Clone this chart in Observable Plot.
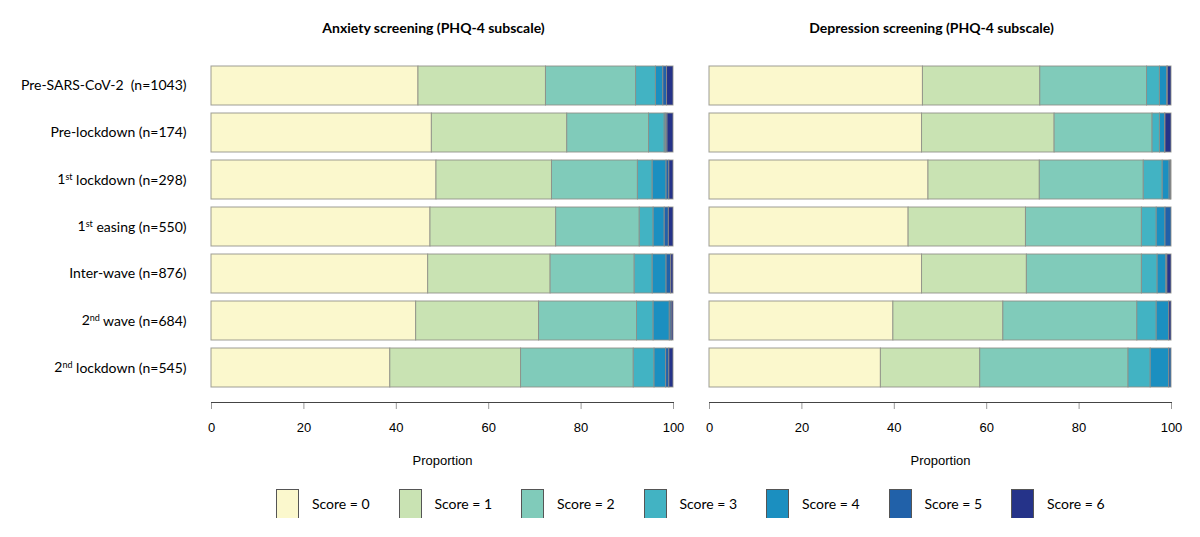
<!DOCTYPE html>
<html><head><meta charset="utf-8">
<script src="https://cdn.jsdelivr.net/npm/d3@7"></script>
<script src="https://cdn.jsdelivr.net/npm/@observablehq/plot@0.6"></script>
<style>
body{margin:0;background:#fff;}
#chart svg{display:block;}
#legend{display:flex;align-items:center;padding-left:276px;margin-top:9px;height:29px;font-family:Lato,"Open Sans",sans-serif;font-size:14px;color:#000;}
.item{display:flex;align-items:center;width:122.5px;flex:none;}
.sw{width:21px;height:28px;border:1px solid #555;box-sizing:content-box;margin-right:13px;}
</style></head><body>
<div id="chart"></div><div id="legend"></div>
<script>
const periods = ["Pre-SARS-CoV-2\u00a0 (n=1043)", "Pre-lockdown (n=174)", "1st lockdown (n=298)", "1st easing (n=550)", "Inter-wave (n=876)", "2nd wave (n=684)", "2nd lockdown (n=545)"];
const scores = ["Score = 0", "Score = 1", "Score = 2", "Score = 3", "Score = 4", "Score = 5", "Score = 6"];
const colors = ["#fbf8cd", "#c9e3b3", "#80cbba", "#42b3c3", "#1b8fc0", "#2161a9", "#253389"];
const panels = ["Anxiety screening (PHQ-4 subscale)", "Depression screening (PHQ-4 subscale)"];
const ticks = [0, 20, 40, 60, 80, 100];
const xLabel = "Proportion";
// percentages per score (0..6), one row per period
const anxiety = [
  [44.8, 27.6, 19.5, 4.3, 1.6, 0.8, 1.4],
  [47.7, 29.3, 17.7, 3.4, 0.3, 0.3, 1.3],
  [48.7, 25.0, 18.6, 3.2, 3.0, 0.6, 0.9],
  [47.4, 27.2, 18.1, 3.0, 2.4, 0.9, 1.0],
  [46.9, 26.5, 18.2, 3.9, 3.0, 1.0, 0.5],
  [44.3, 26.6, 21.2, 3.6, 3.5, 0.4, 0.4],
  [38.7, 28.3, 24.4, 4.5, 2.5, 0.7, 0.9]
];
const depression = [
  [46.2, 25.4, 23.1, 2.8, 1.6, 0.1, 0.8],
  [46.0, 28.7, 21.2, 1.6, 1.1, 0.1, 1.3],
  [47.4, 24.1, 22.5, 4.1, 1.5, 0.3, 0.1],
  [43.1, 25.4, 25.1, 3.2, 1.9, 1.3, 0.0],
  [46.0, 22.7, 24.9, 3.4, 1.9, 0.2, 0.9],
  [39.8, 23.8, 29.0, 4.2, 2.7, 0.0, 0.5],
  [37.1, 21.5, 32.1, 4.8, 4.0, 0.5, 0.0]
];

const rows = [];
[anxiety, depression].forEach((m, pi) => m.forEach((vals, i) => vals.forEach((v, s) =>
  rows.push({panel: panels[pi], period: periods[i], score: scores[s], value: v}))));

const plot = Plot.plot({
  width: 1200, height: 480,
  marginLeft: 210, marginRight: 28, marginTop: 60, marginBottom: 78,
  style: {fontFamily: "'Liberation Sans', Arial, sans-serif", fontSize: "13px", color: "#000", background: "#fff"},
  fx: {domain: panels, paddingInner: 0.072, paddingOuter: 0, axis: null},
  x: {domain: [0, 100]},
  y: {domain: periods, paddingInner: 0.165, paddingOuter: 0.08, range: [61.2, 392.3], axis: null},
  color: {domain: scores, range: colors},
  marks: [
    Plot.barX(rows, {fx: "panel", y: "period", x: "value", fill: "score", stroke: "#8e8e86", strokeWidth: 1, strokeOpacity: 0.85}),
    Plot.axisY({tickSize: 0, tickPadding: 25, label: null, fontFamily: "Lato, 'Open Sans', sans-serif", fontSize: 14}),
    Plot.axisX({ticks, tickSize: 7, tickPadding: 13, stroke: "#999", label: null, fontSize: 13}),
    Plot.frame({anchor: "bottom", stroke: "#444"}),
    Plot.text(panels, {fx: d => d, text: () => xLabel, frameAnchor: "bottom", lineAnchor: "middle", dy: 58, fontSize: 13}),
    Plot.text(panels, {fx: d => d, text: d => d, frameAnchor: "top", lineAnchor: "middle", dy: -32, dx: -9, fontWeight: "bold", fontSize: 14, fontFamily: "Lato, 'Open Sans', sans-serif"})
  ]
});
document.getElementById("chart").appendChild(plot);

// superscript ordinals in the period labels
plot.querySelectorAll('g[aria-label="y-axis tick label"] text').forEach(t => {
  const m = t.textContent.match(/^(\d)(st|nd|rd|th)(.*)$/);
  if (!m) return;
  t.textContent = "";
  const ns = "http://www.w3.org/2000/svg";
  const a = document.createElementNS(ns, "tspan"); a.textContent = m[1];
  const b = document.createElementNS(ns, "tspan"); b.textContent = m[2];
  b.setAttribute("font-size", "9"); b.setAttribute("dy", "-0.45em");
  const c = document.createElementNS(ns, "tspan"); c.textContent = m[3];
  c.setAttribute("dy", "0.3em");
  t.append(a, b, c);
});

const color = plot.scale("color");
const leg = document.getElementById("legend");
scores.forEach(s => {
  const it = document.createElement("div"); it.className = "item";
  const sw = document.createElement("div"); sw.className = "sw"; sw.style.background = color.apply(s);
  const lb = document.createElement("span"); lb.textContent = s;
  it.append(sw, lb); leg.appendChild(it);
});
</script>
</body></html>
